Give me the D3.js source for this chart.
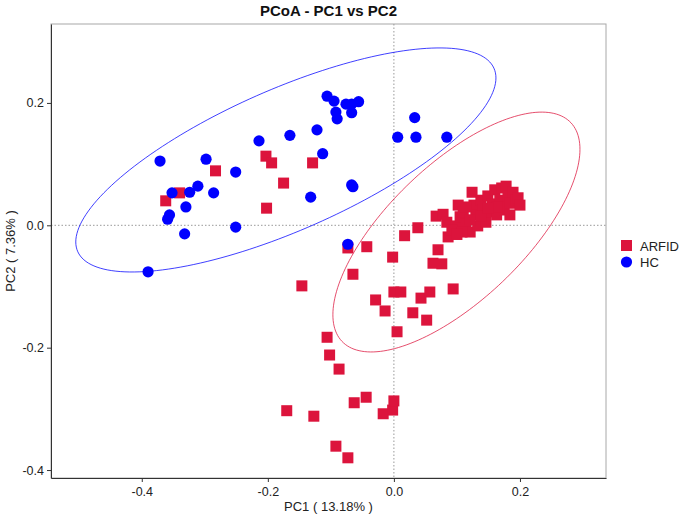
<!DOCTYPE html>
<html><head><meta charset="utf-8">
<script src="https://cdn.jsdelivr.net/npm/d3@7"></script>
<style>body{margin:0;background:#fff;} text{font-family:"Liberation Sans",Arial,sans-serif;}</style>
</head><body><svg id="c" width="685" height="518"></svg>
<script>
const titleText = "PCoA - PC1 vs PC2";
const xLabel = "PC1 ( 13.18% )";
const yLabel = "PC2 ( 7.36% )";
const groups = ["ARFID", "HC"];
const colors = ["#DC143C", "#0000FF"];
const xTicks = [-0.4, -0.2, 0.0, 0.2];
const yTicks = [-0.4, -0.2, 0.0, 0.2];
const xDomain = [-0.544, 0.3365];
const yDomain = [-0.413, 0.329];

const hcX = [-0.390,-0.371,-0.356,-0.359,-0.352,-0.330,-0.324,-0.311,-0.298,-0.286,-0.332,-0.251,-0.251,-0.214,-0.165,-0.122,-0.113,-0.106,-0.095,-0.092,-0.090,-0.076,-0.067,-0.067,-0.056,-0.132,-0.067,-0.065,-0.073,0.006,0.035,0.033,0.084];
const hcY = [-0.076,0.105,0.017,0.010,0.053,0.030,0.054,0.064,0.108,0.053,-0.014,0.087,-0.003,0.138,0.147,0.156,0.117,0.211,0.203,0.185,0.174,0.198,0.184,0.198,0.202,0.046,0.066,0.063,-0.031,0.144,0.144,0.176,0.144];

const arX = [-0.362,-0.340,-0.283,-0.203,-0.194,-0.175,-0.202,-0.129,-0.146,-0.106,-0.102,-0.087,-0.170,-0.127,-0.092,-0.073,-0.063,-0.044,-0.017,-0.002,0.000,-0.073,-0.043,-0.065,-0.002,0.017,0.038,0.000,0.011,-0.029,-0.014,0.005,0.030,0.043,0.052,0.057,0.094,0.062,0.076,0.070,0.086,
 0.067,0.078,0.084,0.098,0.102,0.105,0.110,0.114,0.121,0.124,0.127,0.130,0.133,0.138,0.141,0.146,0.149,0.152,0.156,0.160,0.163,0.168,0.171,0.175,0.178,0.181,0.184,0.189,0.194,0.197,0.114,0.138,0.163,0.092,0.108,0.121,0.184,0.200,0.100,0.150];
const arY = [0.040,0.053,0.089,0.113,0.102,0.069,0.028,0.102,-0.099,-0.183,-0.212,-0.235,-0.303,-0.312,-0.361,-0.380,-0.290,-0.281,-0.308,-0.302,-0.287,-0.037,-0.035,-0.080,-0.052,-0.017,-0.004,-0.109,-0.109,-0.122,-0.140,-0.174,-0.143,-0.119,-0.155,-0.109,-0.104,-0.062,-0.063,-0.040,-0.019,
 0.015,0.018,0.005,-0.001,0.033,0.014,0.022,0.002,-0.011,0.054,0.033,0.017,-0.001,0.041,0.025,0.005,0.048,0.022,0.035,0.058,0.017,0.041,0.061,0.025,0.064,0.048,0.036,0.054,0.041,0.045,0.030,0.015,0.030,-0.008,-0.011,0.009,0.017,0.033,-0.015,0.028];

// ellipses: center x, center y, half-width x, half-height y, correlation
const ellipseCX = [0.0992, -0.1714];
const ellipseCY = [-0.011, 0.1068];
const ellipseHX = [0.196, 0.3333];
const ellipseHY = [0.196, 0.1831];
const ellipseR  = [0.69, 0.732];

const svg = d3.select("#c");
const m = {l:51, r:606, t:24, b:478};
const x = d3.scaleLinear().domain(xDomain).range([m.l, m.r]);
const y = d3.scaleLinear().domain(yDomain).range([m.b, m.t]);

svg.append("rect").attr("x",m.l).attr("y",m.t).attr("width",m.r-m.l).attr("height",m.b-m.t)
  .attr("fill","none").attr("stroke","#a8a8a8").attr("stroke-width",1);

svg.append("line").attr("x1",x(0)).attr("x2",x(0)).attr("y1",m.t).attr("y2",m.b)
  .attr("stroke","#999").attr("stroke-dasharray","1.5,2");
svg.append("line").attr("x1",m.l).attr("x2",m.r).attr("y1",y(0)).attr("y2",y(0))
  .attr("stroke","#999").attr("stroke-dasharray","1.5,2");

const line = d3.line().x(d=>x(d[0])).y(d=>y(d[1]));
groups.forEach((g,i)=>{
  const pts = d3.range(0, 361, 2).map(a=>{
    const t = a*Math.PI/180;
    return [ellipseCX[i] + ellipseHX[i]*Math.cos(t),
            ellipseCY[i] + ellipseHY[i]*(ellipseR[i]*Math.cos(t) + Math.sqrt(1-ellipseR[i]*ellipseR[i])*Math.sin(t))];
  });
  svg.append("path").attr("d", line(pts)).attr("fill","none")
    .attr("stroke", colors[i]).attr("stroke-width",1).attr("stroke-opacity",0.75);
});

const s = 11;
svg.append("g").selectAll("rect").data(d3.range(arX.length)).join("rect")
  .attr("x", i=>x(arX[i])-s/2).attr("y", i=>y(arY[i])-s/2)
  .attr("width",s).attr("height",s).attr("fill",colors[0]);
svg.append("g").selectAll("circle").data(d3.range(hcX.length)).join("circle")
  .attr("cx", i=>x(hcX[i])).attr("cy", i=>y(hcY[i])).attr("r",5.6).attr("fill",colors[1]);

const xa = svg.append("g").attr("transform",`translate(0,${m.b})`)
  .call(d3.axisBottom(x).tickValues(xTicks).tickFormat(d3.format(".1f")).tickSize(4).tickSizeOuter(0));
const ya = svg.append("g").attr("transform",`translate(${m.l},0)`)
  .call(d3.axisLeft(y).tickValues(yTicks).tickFormat(d3.format(".1f")).tickSize(4).tickSizeOuter(0));
[xa,ya].forEach(a=>{
  a.select(".domain").attr("stroke","#333");
  a.selectAll(".tick line").attr("stroke","#333");
  a.selectAll(".tick text").attr("fill","#222").attr("font-size","12.5px")
   .attr("font-family","'Liberation Sans',Arial,sans-serif");
});
xa.selectAll(".tick text").text(d=>d3.format(".1f")(d).replace("−","-")).attr("dy","0.85em");
ya.selectAll(".tick text").text(d=>d3.format(".1f")(d).replace("−","-"));

svg.append("text").attr("x",(m.l+m.r)/2).attr("y",16).attr("text-anchor","middle")
  .attr("font-size","15px").attr("font-weight","bold").attr("fill","#111").text(titleText);
svg.append("text").attr("x",(m.l+m.r)/2).attr("y",511).attr("text-anchor","middle")
  .attr("font-size","13px").attr("fill","#222").text(xLabel);
svg.append("text").attr("transform",`translate(15,${(m.t+m.b)/2}) rotate(-90)`).attr("text-anchor","middle")
  .attr("font-size","13px").attr("fill","#222").text(yLabel);

const lg = svg.append("g");
lg.append("rect").attr("x",621).attr("y",240).attr("width",11).attr("height",11).attr("fill",colors[0]);
lg.append("circle").attr("cx",626.5).attr("cy",262).attr("r",5.6).attr("fill",colors[1]);
groups.forEach((g,i)=>{
  lg.append("text").attr("x",640).attr("y",250.5+i*16).attr("font-size","13px").attr("fill","#222").text(g);
});
</script></body></html>
